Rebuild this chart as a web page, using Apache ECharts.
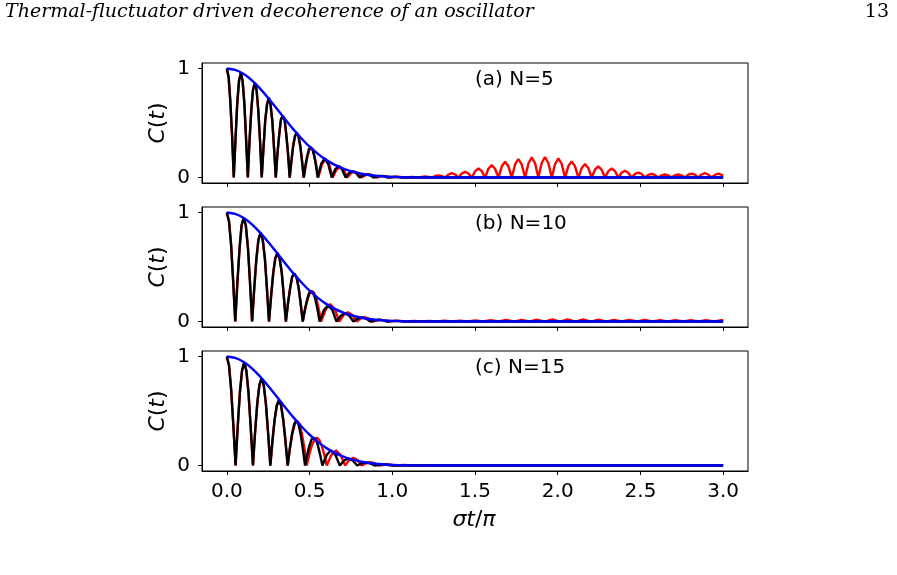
<!DOCTYPE html>
<html>
<head>
<meta charset="utf-8">
<script src="https://cdn.jsdelivr.net/npm/echarts@6/dist/echarts.min.js"></script>
<style>
  html, body { margin: 0; padding: 0; background: #fff; }
  #chart { width: 897px; height: 575px; }
</style>
</head>
<body>
<div id="chart"></div>
<script>
// x = sigma*t/pi, y = C(t)
const xTicks = [0, 0.5, 1, 1.5, 2, 2.5, 3];
const yTicks = [0, 1];
const panelLabels = ['(a) N=5', '(b) N=10', '(c) N=15'];

// gaussian envelope (blue), same in all panels
const envelope = [
  [0, 1], [0.05, 0.987], [0.1, 0.951], [0.15, 0.893], [0.2, 0.817], [0.25, 0.729],
  [0.3, 0.635], [0.35, 0.539], [0.4, 0.446], [0.45, 0.36], [0.5, 0.283], [0.55, 0.217],
  [0.6, 0.162], [0.65, 0.118], [0.7, 0.084], [0.75, 0.058], [0.8, 0.039], [0.85, 0.026],
  [0.9, 0.017], [0.95, 0.011], [1.0, 0.006], [1.1, 0.002], [1.2, 0.001], [1.4, 0], [3.0, 0]
];

// panel (a) N=5 : red and black identical up to 0.465
const aShared = [
  [0, 1], [0.011, 0.92], [0.021, 0.70], [0.032, 0.38], [0.042, 0],
  [0.053, 0.37], [0.063, 0.68], [0.074, 0.89], [0.085, 0.96], [0.095, 0.89], [0.106, 0.68], [0.116, 0.37], [0.127, 0],
  [0.137, 0.33], [0.148, 0.62], [0.158, 0.80], [0.169, 0.87], [0.180, 0.80], [0.190, 0.62], [0.201, 0.33], [0.211, 0],
  [0.222, 0.28], [0.232, 0.52], [0.243, 0.67], [0.254, 0.73], [0.264, 0.67], [0.275, 0.52], [0.285, 0.28], [0.296, 0],
  [0.306, 0.22], [0.317, 0.40], [0.327, 0.53], [0.338, 0.57], [0.349, 0.53], [0.359, 0.40], [0.370, 0.22], [0.380, 0],
  [0.391, 0.16], [0.401, 0.29], [0.412, 0.38], [0.423, 0.41], [0.433, 0.38], [0.444, 0.29], [0.454, 0.16], [0.465, 0]
];
const aBlackTail = [
  [0.475, 0.11], [0.486, 0.20], [0.496, 0.26], [0.507, 0.28], [0.518, 0.26], [0.528, 0.20], [0.539, 0.11], [0.549, 0],
  [0.570, 0.124], [0.592, 0.175], [0.613, 0.124], [0.634, 0],
  [0.655, 0.074], [0.676, 0.105], [0.697, 0.074], [0.718, 0],
  [0.739, 0.041], [0.761, 0.058], [0.782, 0.041], [0.803, 0],
  [0.824, 0.021], [0.845, 0.030], [0.866, 0.021], [0.887, 0],
  [0.908, 0.011], [0.930, 0.015], [0.951, 0.011], [0.972, 0],
  [1.014, 0.007], [1.056, 0], [1.2, 0], [3.0, 0]
];
const aRedTail = [
  [0.476, 0.10], [0.487, 0.19], [0.498, 0.25], [0.509, 0.27], [0.520, 0.25], [0.531, 0.19], [0.542, 0.10], [0.553, 0],
  [0.575, 0.12], [0.597, 0.17], [0.619, 0.12], [0.640, 0],
  [0.662, 0.071], [0.684, 0.10], [0.706, 0.071], [0.728, 0],
  [0.750, 0.039], [0.772, 0.055], [0.794, 0.039], [0.815, 0],
  [0.837, 0.021], [0.859, 0.03], [0.881, 0.021], [0.903, 0],
  [0.946, 0.015], [0.990, 0], [1.033, 0.008], [1.077, 0], [1.117, 0.006], [1.158, 0], [1.199, 0.01],
  // revival
  [1.239, 0], [1.259, 0.014], [1.279, 0.02], [1.299, 0.014],
  [1.320, 0], [1.340, 0.028], [1.360, 0.04], [1.380, 0.028],
  [1.400, 0], [1.420, 0.037], [1.440, 0.052], [1.460, 0.037],
  [1.481, 0], [1.501, 0.059], [1.521, 0.083], [1.541, 0.059],
  [1.561, 0], [1.581, 0.081], [1.601, 0.114], [1.621, 0.081],
  [1.642, 0], [1.662, 0.103], [1.682, 0.145], [1.702, 0.103],
  [1.722, 0], [1.742, 0.120], [1.762, 0.17], [1.782, 0.120],
  [1.803, 0], [1.823, 0.131], [1.843, 0.185], [1.863, 0.131],
  [1.883, 0], [1.903, 0.133], [1.923, 0.188], [1.943, 0.133],
  [1.964, 0], [1.984, 0.124], [2.004, 0.176], [2.024, 0.124],
  [2.044, 0], [2.064, 0.105], [2.084, 0.148], [2.104, 0.105],
  [2.125, 0], [2.145, 0.087], [2.165, 0.123], [2.185, 0.087],
  [2.205, 0], [2.225, 0.072], [2.245, 0.102], [2.265, 0.072],
  [2.286, 0], [2.306, 0.059], [2.326, 0.083], [2.346, 0.059],
  [2.366, 0], [2.386, 0.044], [2.406, 0.062], [2.426, 0.044],
  [2.447, 0], [2.467, 0.033], [2.487, 0.046], [2.507, 0.033],
  [2.527, 0], [2.547, 0.024], [2.567, 0.034], [2.587, 0.024],
  [2.608, 0], [2.628, 0.020], [2.648, 0.028], [2.668, 0.020],
  [2.688, 0], [2.708, 0.020], [2.728, 0.028], [2.748, 0.020],
  [2.769, 0], [2.789, 0.026], [2.809, 0.037], [2.829, 0.026],
  [2.849, 0], [2.869, 0.028], [2.889, 0.04], [2.909, 0.028],
  [2.930, 0], [2.950, 0.025], [2.970, 0.035], [2.990, 0.025], [3.0, 0.02]
];

// panel (b) N=10 : shared up to 0.459
const bShared = [
  [0, 1], [0.013, 0.92], [0.026, 0.70], [0.038, 0.38], [0.051, 0],
  [0.064, 0.36], [0.077, 0.67], [0.089, 0.88], [0.102, 0.95], [0.115, 0.88], [0.128, 0.67], [0.140, 0.36], [0.153, 0],
  [0.166, 0.31], [0.179, 0.58], [0.191, 0.75], [0.204, 0.815], [0.217, 0.75], [0.230, 0.58], [0.242, 0.31], [0.255, 0],
  [0.268, 0.24], [0.281, 0.45], [0.293, 0.58], [0.306, 0.63], [0.319, 0.58], [0.332, 0.45], [0.344, 0.24], [0.357, 0],
  [0.370, 0.17], [0.383, 0.31], [0.395, 0.41], [0.408, 0.44], [0.421, 0.41], [0.434, 0.31], [0.446, 0.17], [0.459, 0]
];
const bBlackTail = [
  [0.472, 0.11], [0.485, 0.20], [0.497, 0.26], [0.510, 0.28], [0.523, 0.26], [0.536, 0.20], [0.548, 0.11], [0.561, 0],
  [0.587, 0.106], [0.612, 0.15], [0.638, 0.106], [0.663, 0],
  [0.689, 0.054], [0.714, 0.077], [0.740, 0.054], [0.765, 0],
  [0.791, 0.027], [0.816, 0.038], [0.842, 0.027], [0.867, 0],
  [0.893, 0.011], [0.918, 0.016], [0.944, 0.011], [0.969, 0],
  [1.020, 0.006], [1.071, 0], [1.3, 0], [3.0, 0]
];
const bRedTail = [
  [0.473, 0.11], [0.487, 0.20], [0.501, 0.26], [0.515, 0.28], [0.529, 0.26], [0.543, 0.20], [0.556, 0.11], [0.570, 0],
  [0.598, 0.113], [0.625, 0.16], [0.653, 0.113], [0.680, 0],
  [0.706, 0.06], [0.732, 0.085], [0.758, 0.06], [0.785, 0],
  [0.809, 0.028], [0.832, 0.04], [0.856, 0.028], [0.880, 0],
  [0.930, 0.018], [0.980, 0], [1.030, 0.008], [1.083, 0],
  [1.130, 0.005], [1.177, 0], [1.223, 0.006], [1.270, 0], [1.316, 0.007], [1.363, 0],
  [1.409, 0.008], [1.456, 0], [1.502, 0.010], [1.549, 0], [1.595, 0.012], [1.642, 0],
  [1.688, 0.014], [1.735, 0], [1.781, 0.016], [1.828, 0], [1.874, 0.018], [1.921, 0],
  [1.967, 0.019], [2.014, 0], [2.060, 0.020], [2.107, 0], [2.153, 0.019], [2.200, 0],
  [2.246, 0.018], [2.293, 0], [2.339, 0.016], [2.386, 0], [2.432, 0.015], [2.479, 0],
  [2.525, 0.014], [2.572, 0], [2.618, 0.013], [2.665, 0], [2.711, 0.013], [2.758, 0],
  [2.804, 0.013], [2.851, 0], [2.897, 0.012], [2.944, 0], [2.990, 0.012], [3.0, 0.011]
];

// panel (c) N=15 : shared up to 0.368
const cShared = [
  [0, 1], [0.013, 0.92], [0.026, 0.70], [0.039, 0.38], [0.053, 0],
  [0.066, 0.36], [0.079, 0.67], [0.092, 0.87], [0.105, 0.946], [0.118, 0.87], [0.131, 0.67], [0.144, 0.36], [0.158, 0],
  [0.171, 0.31], [0.184, 0.57], [0.197, 0.74], [0.210, 0.80], [0.223, 0.74], [0.236, 0.57], [0.249, 0.31], [0.263, 0],
  [0.276, 0.23], [0.289, 0.42], [0.302, 0.55], [0.315, 0.60], [0.328, 0.55], [0.341, 0.42], [0.354, 0.23], [0.368, 0]
];
const cBlackTail = [
  [0.381, 0.16], [0.394, 0.29], [0.407, 0.38], [0.420, 0.415], [0.433, 0.38], [0.446, 0.29], [0.459, 0.16], [0.473, 0],
  [0.486, 0.10], [0.499, 0.18], [0.512, 0.24], [0.525, 0.255], [0.538, 0.24], [0.551, 0.18], [0.564, 0.10], [0.578, 0],
  [0.604, 0.099], [0.630, 0.14], [0.656, 0.099], [0.683, 0],
  [0.709, 0.046], [0.735, 0.065], [0.761, 0.046], [0.788, 0],
  [0.814, 0.02], [0.840, 0.028], [0.866, 0.02], [0.893, 0],
  [0.945, 0.011], [0.998, 0], [1.2, 0], [3.0, 0]
];
const cRedTail = [
  [0.382, 0.16], [0.396, 0.29], [0.411, 0.38], [0.425, 0.41], [0.440, 0.38], [0.454, 0.29], [0.469, 0.16], [0.483, 0],
  [0.498, 0.10], [0.513, 0.18], [0.529, 0.235], [0.544, 0.255], [0.559, 0.235], [0.574, 0.18], [0.589, 0.10], [0.604, 0],
  [0.632, 0.098], [0.659, 0.138], [0.687, 0.098], [0.715, 0],
  [0.740, 0.05], [0.765, 0.071], [0.790, 0.05], [0.815, 0],
  [0.842, 0.021], [0.868, 0.03], [0.894, 0.021], [0.920, 0],
  [0.970, 0.012], [1.020, 0], [1.070, 0.005], [1.120, 0], [3.0, 0]
];

const panels = [
  { red: aShared.concat(aRedTail), black: aShared.concat(aBlackTail) },
  { red: bShared.concat(bRedTail), black: bShared.concat(bBlackTail) },
  { red: cShared.concat(cRedTail), black: cShared.concat(cBlackTail) }
];

const gridTops = [63, 207, 351];
const gridLeft = 202;
const gridWidth = 546;
const gridHeight = 120;
const font = '"DejaVu Sans", sans-serif';
const axisStyle = { color: '#000', width: 1 };

const grids = [];
const xAxes = [];
const yAxes = [];
const series = [];
const graphics = [];

panels.forEach((p, i) => {
	grids.push({
		left: gridLeft, top: gridTops[i], width: gridWidth, height: gridHeight,
		show: true, borderColor: '#000', borderWidth: 1, backgroundColor: 'transparent'
	});
	xAxes.push({
		type: 'value', gridIndex: i, min: -0.15, max: 3.15, position: 'bottom',
		axisLine: { show: true, onZero: false, lineStyle: axisStyle },
		splitLine: { show: false },
		axisTick: { show: true, inside: false, length: 4, customValues: xTicks, lineStyle: axisStyle },
		axisLabel: {
			show: i === 2, customValues: xTicks, margin: 11,
			color: '#000', fontSize: 20, fontFamily: font,
			formatter: (v) => v.toFixed(1)
		}
	});
	yAxes.push({
		type: 'value', gridIndex: i, min: -0.05, max: 1.05, position: 'left',
		axisLine: { show: true, onZero: false, lineStyle: axisStyle },
		splitLine: { show: false },
		axisTick: { show: true, inside: false, length: 4, customValues: yTicks, lineStyle: axisStyle },
		axisLabel: { show: true, customValues: yTicks, margin: 12, color: '#000', fontSize: 20, fontFamily: font }
	});

	const common = { type: 'line', xAxisIndex: i, yAxisIndex: i, showSymbol: false, animation: false, silent: true };
	series.push(Object.assign({}, common, { data: p.red, lineStyle: { color: '#ff0000', width: 2.4 } }));
	series.push(Object.assign({}, common, { data: p.black, lineStyle: { color: '#000000', width: 2.4 } }));
	series.push(Object.assign({}, common, { data: envelope, smooth: 0.3, lineStyle: { color: '#0000ff', width: 2.4 } }));

	// panel label
	graphics.push({
		type: 'text', left: 475, top: gridTops[i] + 7,
		style: { text: panelLabels[i], fontSize: 20, fontFamily: font, fill: '#000' }
	});
	// y label C(t)
	graphics.push({
		type: 'text', x: 158, y: gridTops[i] + gridHeight / 2, rotation: Math.PI / 2,
		style: {
			text: '{i|C}({i|t})', fontSize: 22, fontFamily: font, fill: '#000',
			align: 'center', verticalAlign: 'middle',
			rich: { i: { fontStyle: 'italic', fontSize: 22, fontFamily: font } }
		}
	});
});

// x label and page header
graphics.push({
	type: 'text', x: 474, y: 520,
	style: {
		text: '{i|σt}/{i|π}', fontSize: 22, fontFamily: font, fill: '#000',
		align: 'center', verticalAlign: 'middle',
		rich: { i: { fontStyle: 'italic', fontSize: 22, fontFamily: font } }
	}
});
graphics.push({
	type: 'text', left: 5, top: 3,
	style: { text: 'Thermal-fluctuator driven decoherence of an oscillator', fontStyle: 'italic', fontSize: 19, fontFamily: '"DejaVu Serif", serif', fill: '#000' }
});
graphics.push({
	type: 'text', right: 8, top: 3,
	style: { text: '13', fontSize: 19, fontFamily: '"DejaVu Serif", serif', fill: '#000' }
});

const myChart = echarts.init(document.getElementById('chart'), null, { renderer: 'canvas' });
myChart.setOption({
	animation: false,
	backgroundColor: '#fff',
	grid: grids,
	xAxis: xAxes,
	yAxis: yAxes,
	series: series,
	graphic: graphics
});
</script>
</body>
</html>
